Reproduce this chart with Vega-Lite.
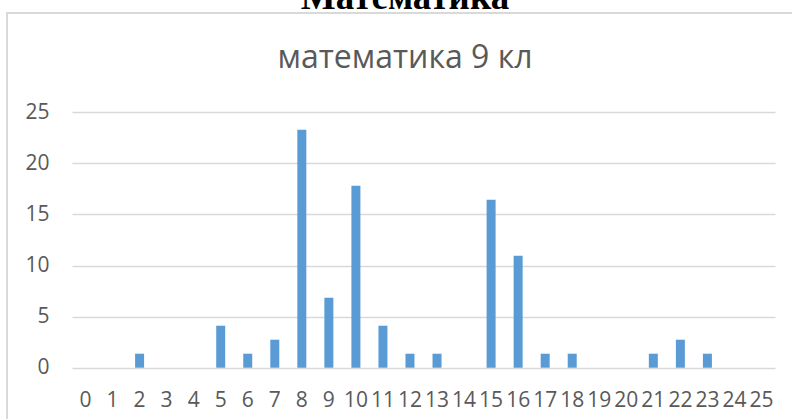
{
  "$schema": "https://vega.github.io/schema/vega-lite/v6.json",
  "autosize": {"type": "none"},
  "padding": {"left": 7, "top": 13, "right": 0, "bottom": 0},
  "width": 796,
  "height": 419,
  "background": "white",
  "title": {
    "text": "Математика",
    "subtitle": "математика 9 кл",
    "anchor": "middle",
    "frame": "group",
    "orient": "top",
    "font": "Liberation Serif",
    "fontSize": 37,
    "fontWeight": "bold",
    "color": "#000000",
    "subtitleFont": "Open Sans",
    "subtitleFontSize": 32,
    "subtitleFontWeight": "normal",
    "subtitleColor": "#595959",
    "subtitlePadding": 26,
    "offset": -62
  },
  "data": {
    "values": [
      {"score": "0", "pct": 0},
      {"score": "1", "pct": 0},
      {"score": "2", "pct": 1.37},
      {"score": "3", "pct": 0},
      {"score": "4", "pct": 0},
      {"score": "5", "pct": 4.11},
      {"score": "6", "pct": 1.37},
      {"score": "7", "pct": 2.74},
      {"score": "8", "pct": 23.29},
      {"score": "9", "pct": 6.85},
      {"score": "10", "pct": 17.81},
      {"score": "11", "pct": 4.11},
      {"score": "12", "pct": 1.37},
      {"score": "13", "pct": 1.37},
      {"score": "14", "pct": 0},
      {"score": "15", "pct": 16.44},
      {"score": "16", "pct": 10.96},
      {"score": "17", "pct": 1.37},
      {"score": "18", "pct": 1.37},
      {"score": "19", "pct": 0},
      {"score": "20", "pct": 0},
      {"score": "21", "pct": 1.37},
      {"score": "22", "pct": 2.74},
      {"score": "23", "pct": 1.37},
      {"score": "24", "pct": 0},
      {"score": "25", "pct": 0}
    ]
  },
  "mark": {"type": "bar", "color": "#5B9BD5"},
  "encoding": {
    "x": {
      "field": "score",
      "type": "ordinal",
      "sort": null,
      "scale": {"range": [65, 768], "paddingInner": 0.667, "paddingOuter": 0.333},
      "axis": {
        "title": null,
        "labelAngle": 0,
        "domain": false,
        "ticks": false,
        "tickSize": 0,
        "grid": false,
        "offset": -64.3,
        "labelPadding": 22,
        "labelFont": "Open Sans",
        "labelFontSize": 21,
        "labelColor": "#595959",
        "labelOverlap": false
      }
    },
    "y": {
      "field": "pct",
      "type": "quantitative",
      "scale": {"domain": [0, 25], "range": [354.7, 99.3], "nice": false},
      "axis": {
        "title": null,
        "values": [0, 5, 10, 15, 20, 25],
        "domain": false,
        "ticks": false,
        "tickSize": 0,
        "grid": true,
        "gridColor": "#D9D9D9",
        "gridWidth": 1.4,
        "offset": -42,
        "labelPadding": 0,
        "labelFont": "Open Sans",
        "labelFontSize": 21,
        "labelColor": "#595959"
      }
    }
  },
  "config": {
    "view": {"stroke": "#D9D9D9", "strokeWidth": 2}
  }
}
